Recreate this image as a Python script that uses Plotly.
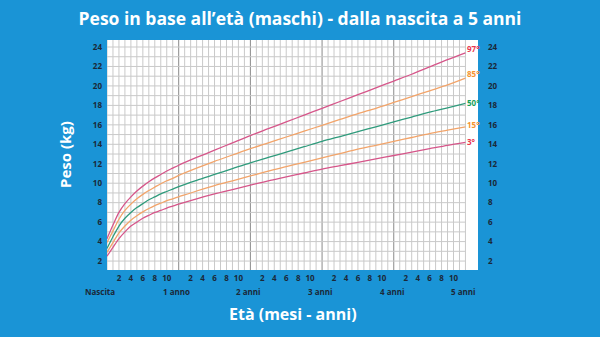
import plotly.graph_objects as go

# ---- data (weight-for-age, boys) ----
months = [0, 1, 2, 3, 4, 5, 6, 7, 8, 9, 10, 11, 12, 15, 18, 21, 24, 27, 30, 33, 36,
          39, 42, 45, 48, 51, 54, 57, 60]
p3  = [2.5, 3.4, 4.3, 5.0, 5.6, 6.0, 6.4, 6.7, 7.0, 7.2, 7.45, 7.65, 7.85, 8.4, 8.9, 9.35, 9.8,
       10.25, 10.65, 11.05, 11.45, 11.8, 12.15, 12.5, 12.85, 13.2, 13.55, 13.9, 14.2]
p15 = [2.9, 3.9, 4.9, 5.6, 6.2, 6.65, 7.05, 7.4, 7.7, 7.95, 8.2, 8.4, 8.6, 9.2, 9.75, 10.25, 10.75,
       11.25, 11.7, 12.15, 12.6, 13.05, 13.5, 13.9, 14.3, 14.7, 15.1, 15.45, 15.8]
p50 = [3.3, 4.5, 5.6, 6.4, 7.0, 7.5, 7.9, 8.3, 8.6, 8.9, 9.15, 9.4, 9.65, 10.3, 10.9, 11.5, 12.1,
       12.65, 13.2, 13.75, 14.3, 14.8, 15.3, 15.8, 16.3, 16.8, 17.3, 17.75, 18.2]
p85 = [3.9, 5.1, 6.3, 7.2, 7.85, 8.4, 8.85, 9.25, 9.6, 9.95, 10.25, 10.5, 10.8, 11.55, 12.25, 12.9, 13.55,
       14.15, 14.75, 15.35, 15.95, 16.55, 17.15, 17.7, 18.3, 18.9, 19.5, 20.1, 20.8]
p97 = [4.3, 5.7, 7.0, 7.9, 8.6, 9.2, 9.7, 10.15, 10.55, 10.9, 11.25, 11.55, 11.85, 12.65, 13.4, 14.15, 14.9,
       15.6, 16.3, 17.0, 17.7, 18.4, 19.1, 19.8, 20.5, 21.2, 21.95, 22.7, 23.4]

series_names = ["97°", "85°", "50°", "15°", "3°"]
series_vals = [p97, p85, p50, p15, p3]
line_colors = ["#d6568a", "#f2a46a", "#2f9b7c", "#f2a46a", "#d6568a"]
label_colors = ["#e8364e", "#f59331", "#16a05a", "#f59331", "#e8364e"]
label_dy = [0.45, 0.45, 0.1, 0.2, 0.1]

y_ticks = [2, 4, 6, 8, 10, 12, 14, 16, 18, 20, 22, 24]
month_ticks = [m for m in range(1, 60) if (m % 12) in (2, 4, 6, 8, 10)]
month_labels = [str(m % 12) for m in month_ticks]
year_pos = [0, 12, 24, 36, 48, 60]
year_labels = ["Nascita", "1 anno", "2 anni", "3 anni", "4 anni", "5 anni"]

BG = "#1a94d6"
TXT = "#1b2838"
X_MAX = 62.1
Y_RANGE = [1.08, 24.72]

fig = go.Figure()

for name, vals, lc in zip(series_names, series_vals, line_colors):
    fig.add_trace(go.Scatter(x=months, y=vals, mode="lines", name=name,
                             line=dict(color=lc, width=1.3, shape="spline", smoothing=0.8),
                             hoverinfo="skip", showlegend=False))

# invisible trace to carry the right axis
fig.add_trace(go.Scatter(x=[None], y=[None], yaxis="y2", showlegend=False, hoverinfo="skip"))

shapes = []
for k in range(2, 25):
    shapes.append(dict(type="line", xref="x", yref="y", x0=0, x1=60, y0=k, y1=k,
                       line=dict(color="#c9c9c9", width=1), layer="below"))
for m in range(0, 61):
    col = "#8a8a8a" if m % 12 == 0 and m not in (0, 60) else "#c9c9c9"
    shapes.append(dict(type="line", xref="x", yref="paper", x0=m, x1=m, y0=0, y1=1,
                       line=dict(color=col, width=1), layer="below"))
fig.update_layout(shapes=shapes)

annotations = []
for name, vals, c, dy in zip(series_names, series_vals, label_colors, label_dy):
    annotations.append(dict(x=60, y=vals[-1] + dy, xref="x", yref="y", text=name,
                            showarrow=False, xanchor="left", yanchor="middle",
                            font=dict(family="Open Sans", size=8, color=c, weight="bold")))
for pos, lab in zip(year_pos, year_labels):
    annotations.append(dict(x=pos, y=0, xref="x", yref="paper", text=lab, showarrow=False,
                            xanchor="center", yanchor="middle", yshift=-21,
                            xshift=-7 if pos == 0 else -2,
                            font=dict(family="Open Sans", size=8, color=TXT, weight="bold")))
annotations.append(dict(x=0.5, y=0, xref="paper", yref="paper", text="Età (mesi - anni)",
                        showarrow=False, xanchor="center", yanchor="middle", yshift=-44,
                        font=dict(family="Open Sans", size=16, color="white", weight="bold")))
annotations.append(dict(x=0, y=0.5, xref="paper", yref="paper", text="Peso (kg)",
                        showarrow=False, textangle=-90, xanchor="center", yanchor="middle",
                        xshift=-42,
                        font=dict(family="Open Sans", size=15, color="white", weight="bold")))

fig.update_layout(
    width=600, height=337,
    margin=dict(l=107, r=122, t=40, b=67),
    paper_bgcolor=BG, plot_bgcolor="white",
    title=dict(text="Peso in base all’età (maschi) - dalla nascita a 5 anni",
               x=0.5, xanchor="center", y=0.945, yanchor="middle",
               font=dict(family="Open Sans", size=17.5, color="white", weight="bold")),
    xaxis=dict(range=[0, X_MAX], showgrid=False, zeroline=False, showline=False,
               tickvals=month_ticks, ticktext=month_labels, ticks="", ticklabelstandoff=2,
               tickfont=dict(family="Open Sans", size=8, color=TXT, weight="bold")),
    yaxis=dict(range=Y_RANGE, showgrid=False, zeroline=False, showline=False,
               tickvals=y_ticks, ticks="", ticklabelstandoff=4,
               tickfont=dict(family="Open Sans", size=8, color=TXT, weight="bold")),
    yaxis2=dict(range=Y_RANGE, overlaying="y", side="right", showgrid=False,
                zeroline=False, showline=False, tickvals=y_ticks, ticks="",
                ticklabelstandoff=9,
                tickfont=dict(family="Open Sans", size=8, color=TXT, weight="bold")),
    annotations=annotations,
)

fig.write_html("out.html")
